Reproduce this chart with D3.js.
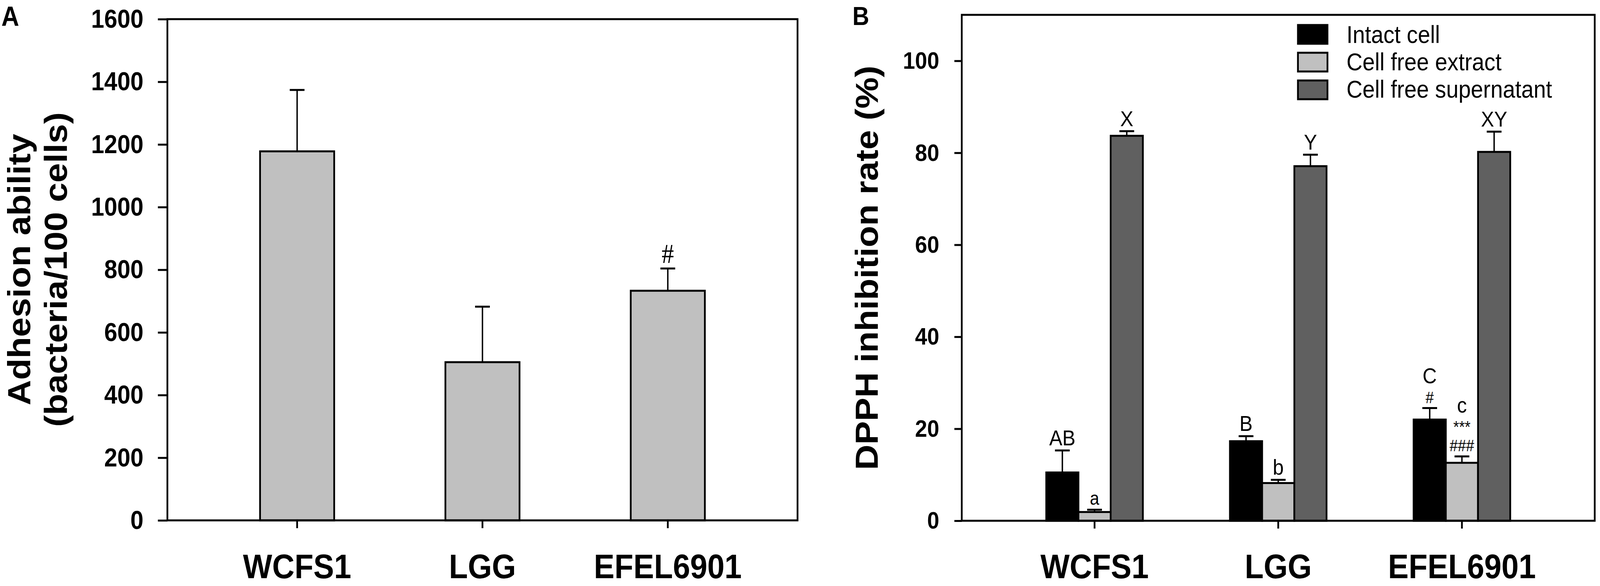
<!DOCTYPE html>
<html>
<head>
<meta charset="utf-8">
<script src="https://cdn.jsdelivr.net/npm/d3@7"></script>
<style>
  html, body { margin: 0; padding: 0; background: #fff; overflow: hidden; width: 100%; height: 100%; }
  svg { display: block; }
</style>
</head>
<body>
<svg id="chart" viewBox="0 0 4550 1500" preserveAspectRatio="none" style="width:100vw;height:100vh"></svg>
<script>
// ---------- DATA ----------
const categories = ["WCFS1", "LGG", "EFEL6901"];

// Panel A: adhesion ability
const adhesion = [1178, 505, 733];
const adhesionErr = [196, 177, 71];
const adhesionMarks = ["", "", "#"];
const yTicksA = [0, 200, 400, 600, 800, 1000, 1200, 1400, 1600];

// Panel B: DPPH inhibition rate
const seriesNames = ["Intact cell", "Cell free extract", "Cell free supernatant"];
const intactCell = [10.5, 17.3, 22.0];
const intactCellErr = [4.8, 1.1, 2.5];
const cellFreeExtract = [1.9, 8.2, 12.6];
const cellFreeExtractErr = [0.5, 0.7, 1.4];
const cellFreeSupernatant = [83.7, 77.1, 80.2];
const cellFreeSupernatantErr = [1.0, 2.5, 4.4];
// annotation lines, listed from bottom to top
const marksIntact = [["AB"], ["B"], ["#", "C"]];
const marksExtract = [["a"], ["b"], ["###", "***", "c"]];
const marksSupernatant = [["X"], ["Y"], ["XY"]];
const yTicksB = [0, 20, 40, 60, 80, 100];

// ---------- STYLE ----------
const seriesFill = ["#000000", "#c0c0c0", "#606060"];
const FONT = "'Liberation Sans', Arial, Helvetica, sans-serif";
const ANNOT_FONT = "'Liberation Sans', Arial, sans-serif";

const svg = d3.select("#chart");

function frame(g, x0, x1, y0, y1) {
  g.append("rect")
    .attr("x", x0).attr("y", y0)
    .attr("width", x1 - x0).attr("height", y1 - y0)
    .attr("fill", "none").attr("stroke", "#000").attr("stroke-width", 5);
}

function styleAxis(sel, fs) {
  sel.select(".domain").remove();
  sel.selectAll(".tick line").attr("stroke", "#000").attr("stroke-width", 5);
  sel.selectAll(".tick text")
    .attr("fill", "#000")
    .style("font-family", FONT)
    .style("font-weight", "bold")
    .style("font-size", fs + "px");
}

// ---------- PANEL A ----------
{
  const L = 476, R = 2268, T = 49, B = 1332;
  const g = svg.append("g");
  const x = d3.scaleBand().domain(categories).range([L, R]).paddingInner(0.6).paddingOuter(0.5);
  const y = d3.scaleLinear().domain([0, 1600]).range([B, T]);

  const data = categories.map((c, i) => ({ c, v: adhesion[i], e: adhesionErr[i], m: adhesionMarks[i] }));

  data.forEach(d => {
    const cx = x(d.c) + x.bandwidth() / 2;
    g.append("line").attr("x1", cx).attr("x2", cx)
      .attr("y1", y(d.v)).attr("y2", y(d.v + d.e))
      .attr("stroke", "#000").attr("stroke-width", 4);
    g.append("line").attr("x1", cx - 21).attr("x2", cx + 21)
      .attr("y1", y(d.v + d.e)).attr("y2", y(d.v + d.e))
      .attr("stroke", "#000").attr("stroke-width", 5);
    if (d.m) {
      g.append("text").attr("x", cx).attr("y", y(d.v + d.e) - 14)
        .attr("text-anchor", "middle")
        .style("font-family", "'Liberation Serif', 'Times New Roman', serif")
        .style("font-size", "70px").text(d.m);
    }
  });

  g.selectAll("rect.bar").data(data).enter().append("rect")
    .attr("class", "bar")
    .attr("x", d => x(d.c)).attr("width", x.bandwidth())
    .attr("y", d => y(d.v)).attr("height", d => y(0) - y(d.v))
    .attr("fill", "#c0c0c0").attr("stroke", "#000").attr("stroke-width", 5);

  frame(g, L, R, T, B);

  const ya = g.append("g").attr("transform", `translate(${L},0)`)
    .call(d3.axisLeft(y).tickValues(yTicksA).tickFormat(d3.format("d"))
      .tickSize(27).tickSizeOuter(0).tickPadding(41));
  styleAxis(ya, 67);

  const xa = g.append("g").attr("transform", `translate(0,${B})`)
    .call(d3.axisBottom(x).tickSize(20).tickSizeOuter(0).tickPadding(0));
  styleAxis(xa, 88);
  xa.selectAll(".tick text").attr("y", 148).attr("dy", 0);

  g.append("text").attr("transform", "translate(86,690) rotate(-90)")
    .attr("text-anchor", "middle")
    .style("font-family", FONT).style("font-weight", "bold").style("font-size", "90px")
    .text("Adhesion ability");
  g.append("text").attr("transform", "translate(190,690) rotate(-90)")
    .attr("text-anchor", "middle")
    .style("font-family", FONT).style("font-weight", "bold").style("font-size", "90px")
    .text("(bacteria/100 cells)");

  g.append("text").attr("x", 4).attr("y", 66)
    .style("font-family", FONT).style("font-weight", "bold").style("font-size", "70px")
    .text("A");
}

// ---------- PANEL B ----------
{
  const L = 2735, R = 4535, T = 38, B = 1333;
  const g = svg.append("g");
  const x0 = d3.scaleBand().domain(categories).range([L, R]).paddingInner(0.474).paddingOuter(0.46);
  const x1 = d3.scaleBand().domain(seriesNames).range([0, x0.bandwidth()]).padding(0);
  const y = d3.scaleLinear().domain([0, 110]).range([B, T]);

  const vals = [intactCell, cellFreeExtract, cellFreeSupernatant];
  const errs = [intactCellErr, cellFreeExtractErr, cellFreeSupernatantErr];
  const marks = [marksIntact, marksExtract, marksSupernatant];

  const data = [];
  categories.forEach((c, i) => {
    seriesNames.forEach((s, j) => {
      data.push({ c, s, j, v: vals[j][i], e: errs[j][i], m: marks[j][i] });
    });
  });

  data.forEach(d => {
    const cx = x0(d.c) + x1(d.s) + x1.bandwidth() / 2;
    const yt = y(d.v + d.e);
    g.append("line").attr("x1", cx).attr("x2", cx)
      .attr("y1", y(d.v)).attr("y2", yt)
      .attr("stroke", "#000").attr("stroke-width", 4);
    g.append("line").attr("x1", cx - 21).attr("x2", cx + 21)
      .attr("y1", yt).attr("y2", yt)
      .attr("stroke", "#000").attr("stroke-width", 5);
    let base = yt - 13;
    d.m.forEach((line, k) => {
      const sym = /^[#*]+$/.test(line);
      const fs = sym ? 42 : (line === "a" ? 48 : 56);
      if (k > 0) {
        base -= (line === "***") ? 48 : 51;
      }
      g.append("text").attr("x", cx).attr("y", base)
        .attr("text-anchor", "middle")
        .style("font-family", ANNOT_FONT)
        .style("font-size", fs + "px").text(line);
    });
  });

  g.selectAll("rect.bar").data(data).enter().append("rect")
    .attr("class", "bar")
    .attr("x", d => x0(d.c) + x1(d.s)).attr("width", x1.bandwidth())
    .attr("y", d => y(d.v)).attr("height", d => y(0) - y(d.v))
    .attr("fill", d => seriesFill[d.j]).attr("stroke", "#000").attr("stroke-width", 5);

  frame(g, L, R, T, B);

  const ya = g.append("g").attr("transform", `translate(${L},0)`)
    .call(d3.axisLeft(y).tickValues(yTicksB).tickFormat(d3.format("d"))
      .tickSize(21).tickSizeOuter(0).tickPadding(43));
  styleAxis(ya, 62);

  const xa = g.append("g").attr("transform", `translate(0,${B})`)
    .call(d3.axisBottom(x0).tickSize(20).tickSizeOuter(0).tickPadding(0));
  styleAxis(xa, 88);
  xa.selectAll(".tick text").attr("y", 147).attr("dy", 0);

  g.append("text").attr("transform", `translate(2496,${(T + B) / 2}) rotate(-90)`)
    .attr("text-anchor", "middle")
    .style("font-family", FONT).style("font-weight", "bold").style("font-size", "90px")
    .text("DPPH inhibition rate (%)");

  g.append("text").attr("x", 2424).attr("y", 64)
    .style("font-family", FONT).style("font-weight", "bold").style("font-size", "66px")
    .text("B");

  const lg = g.append("g").attr("transform", "translate(3689,62)");
  seriesNames.forEach((s, j) => {
    lg.append("rect").attr("x", 2).attr("y", j * 71 + 2)
      .attr("width", 84).attr("height", 48)
      .attr("fill", seriesFill[j]).attr("stroke", "#000").attr("stroke-width", 5);
    lg.append("text").attr("x", 140).attr("y", j * 70 + 48)
      .style("font-family", FONT).style("font-size", "63px")
      .attr("fill", "#000").text(s);
  });
}
</script>
</body>
</html>
